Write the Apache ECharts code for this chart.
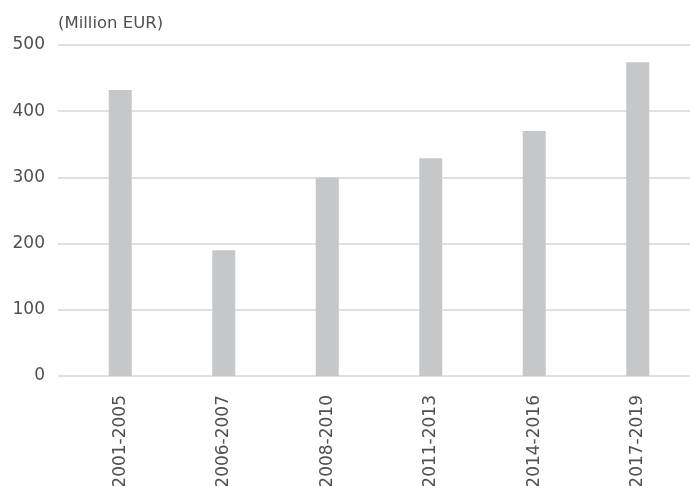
<!DOCTYPE html>
<html><head><meta charset="utf-8">
<script src="https://cdn.jsdelivr.net/npm/echarts@6/dist/echarts.min.js"></script>
<style>html,body{margin:0;padding:0;background:#fff}#c{width:690px;height:486px}</style>
</head><body><div id="c"></div>
<script>
const categories = ['2001-2005','2006-2007','2008-2010','2011-2013','2014-2016','2017-2019'];
const values = [432, 190, 300, 329, 370, 474];
const yTicks = [0, 100, 200, 300, 400, 500];
const unitLabel = '(Million EUR)';

const chart = echarts.init(document.getElementById('c'));
const font = '"DejaVu Sans", sans-serif';
const txt = '#505050';
chart.setOption({
  animation: false,
  graphic: [{type:'text', left: 58, top: 15, style:{text: unitLabel, font: '16.5px ' + font, fill: txt}}],
  grid: [
    {left: 58, right: 0, top: 45, bottom: 110, containLabel: false, outerBoundsMode: 'none'},
    {left: 68.5, right: 0.5, top: 45, bottom: 110, containLabel: false, outerBoundsMode: 'none'}
  ],
  xAxis: [
    {gridIndex: 0, type: 'category', data: categories, show: false},
    {gridIndex: 1, type: 'category', data: categories,
     axisLine: {show: false}, axisTick: {show: false},
     axisLabel: {rotate: 90, margin: 19, color: txt, fontSize: 17, fontFamily: font}}
  ],
  yAxis: [
    {gridIndex: 0, type: 'value', min: yTicks[0], max: yTicks[yTicks.length-1], interval: 100,
     axisLine: {show: false}, axisTick: {show: false},
     axisLabel: {margin: 13, color: txt, fontSize: 17, fontFamily: font},
     splitLine: {lineStyle: {color: '#d6d6d6', width: 1.5}}},
    {gridIndex: 1, type: 'value', min: yTicks[0], max: yTicks[yTicks.length-1], interval: 100, show: false}
  ],
  series: [{
    type: 'bar', xAxisIndex: 1, yAxisIndex: 1, data: values, barWidth: 23,
    itemStyle: {color: '#c6c7c9'}
  }]
});
</script></body></html>
